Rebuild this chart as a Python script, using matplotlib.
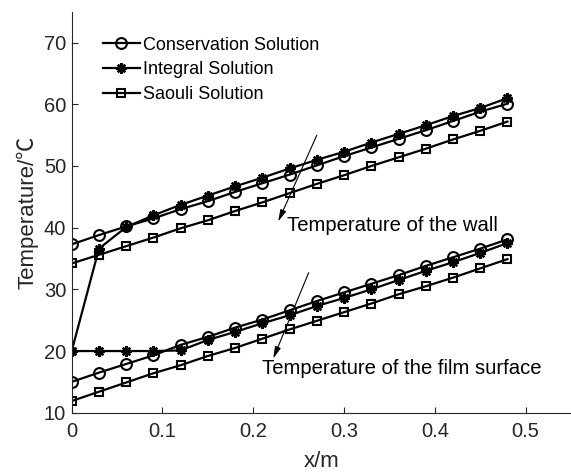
import matplotlib
matplotlib.use("Agg")
import matplotlib.pyplot as plt

plt.rcParams['font.family'] = ['Liberation Sans', 'Noto Sans CJK SC', 'DejaVu Sans']

x = [0, 0.03, 0.06, 0.09, 0.12, 0.15, 0.18, 0.21, 0.24, 0.27, 0.30, 0.33, 0.36, 0.39, 0.42, 0.45, 0.48]

wall_cons = [37.3, 38.8, 40.2, 41.5, 43.0, 44.3, 45.8, 47.2, 48.6, 50.1, 51.6, 53.0, 54.4, 55.8, 57.3, 58.8, 60.1]
wall_int = [20.0, 36.6, 40.1, 42.0, 43.7, 45.2, 46.7, 48.1, 49.6, 51.0, 52.3, 53.8, 55.2, 56.6, 58.1, 59.4, 61.0]
wall_sao = [34.2, 35.6, 37.0, 38.4, 39.9, 41.2, 42.7, 44.1, 45.6, 47.1, 48.5, 50.0, 51.4, 52.8, 54.3, 55.7, 57.2]

film_cons = [15.0, 16.5, 17.9, 19.3, 21.0, 22.3, 23.8, 25.1, 26.6, 28.1, 29.5, 30.9, 32.3, 33.8, 35.2, 36.6, 38.1]
film_int = [20.0, 20.0, 20.0, 20.0, 20.1, 21.8, 23.1, 24.5, 25.8, 27.3, 28.6, 30.0, 31.5, 33.0, 34.4, 35.9, 37.5]
film_sao = [11.9, 13.4, 14.9, 16.4, 17.7, 19.2, 20.5, 22.0, 23.5, 24.9, 26.3, 27.7, 29.2, 30.5, 31.9, 33.4, 34.9]

labels = ["Conservation Solution", "Integral Solution", "Saouli Solution"]
xticks = [0, 0.1, 0.2, 0.3, 0.4, 0.5]
xticklabels = ['0', '0.1', '0.2', '0.3', '0.4', '0.5']
yticks = [10, 20, 30, 40, 50, 60, 70]

fig = plt.figure(figsize=(5.71, 4.72), dpi=100)
ax = fig.add_axes([0.1256, 0.1256, 0.8744, 0.8494])

lw = 1.6
kw_c = dict(color='black', lw=lw, marker='o', ms=7.8, mfc='none', mec='black', mew=1.5)
kw_i = dict(color='black', lw=lw, marker=(8, 2, 0), ms=7.5, mec='black', mew=1.7)
kw_s = dict(color='black', lw=lw, marker='s', ms=5.8, mfc='none', mec='black', mew=1.5)

ax.plot(x, wall_cons, label=labels[0], **kw_c)
ax.plot(x, wall_int, label=labels[1], **kw_i)
ax.plot(x, wall_sao, label=labels[2], **kw_s)
ax.plot(x, film_cons, **kw_c)
ax.plot(x, film_int, **kw_i)
ax.plot(x, film_sao, **kw_s)

ax.set_xlim(0, 0.55)
ax.set_ylim(10, 75)
ax.set_xticks(xticks)
ax.set_xticklabels(xticklabels)
ax.set_yticks(yticks)
ax.tick_params(direction='in', length=4, width=0.8, labelsize=14.5, colors='#262626', pad=4)
ax.tick_params(axis='x', pad=7)
for s in ['top', 'right']:
    ax.spines[s].set_visible(False)
for s in ['left', 'bottom']:
    ax.spines[s].set_linewidth(0.8)
    ax.spines[s].set_color('#262626')

ax.set_xlabel('x/m', fontsize=16, color='#262626', labelpad=7)
ax.set_ylabel('Temperature/℃', fontsize=16, color='#262626', labelpad=4)

leg = ax.legend(loc='upper left', bbox_to_anchor=(0.048, 0.956), frameon=False,
                fontsize=13, handlelength=2.05, handletextpad=0.17, labelspacing=0.42,
                borderaxespad=0)

arrow = dict(arrowstyle='-|>,head_length=0.7,head_width=0.18', color='black', lw=0.8,
             shrinkA=0, shrinkB=0)
ax.annotate('', xy=(0.2275, 41.0), xytext=(0.27, 55.0), arrowprops=arrow)
ax.text(0.237, 40.4, 'Temperature of the wall', fontsize=14.6, va='center', ha='left')
ax.annotate('', xy=(0.222, 18.8), xytext=(0.261, 32.7), arrowprops=arrow)
ax.text(0.210, 17.2, 'Temperature of the film surface', fontsize=14.6, va='center', ha='left')

fig.savefig('out.png', dpi=100)
